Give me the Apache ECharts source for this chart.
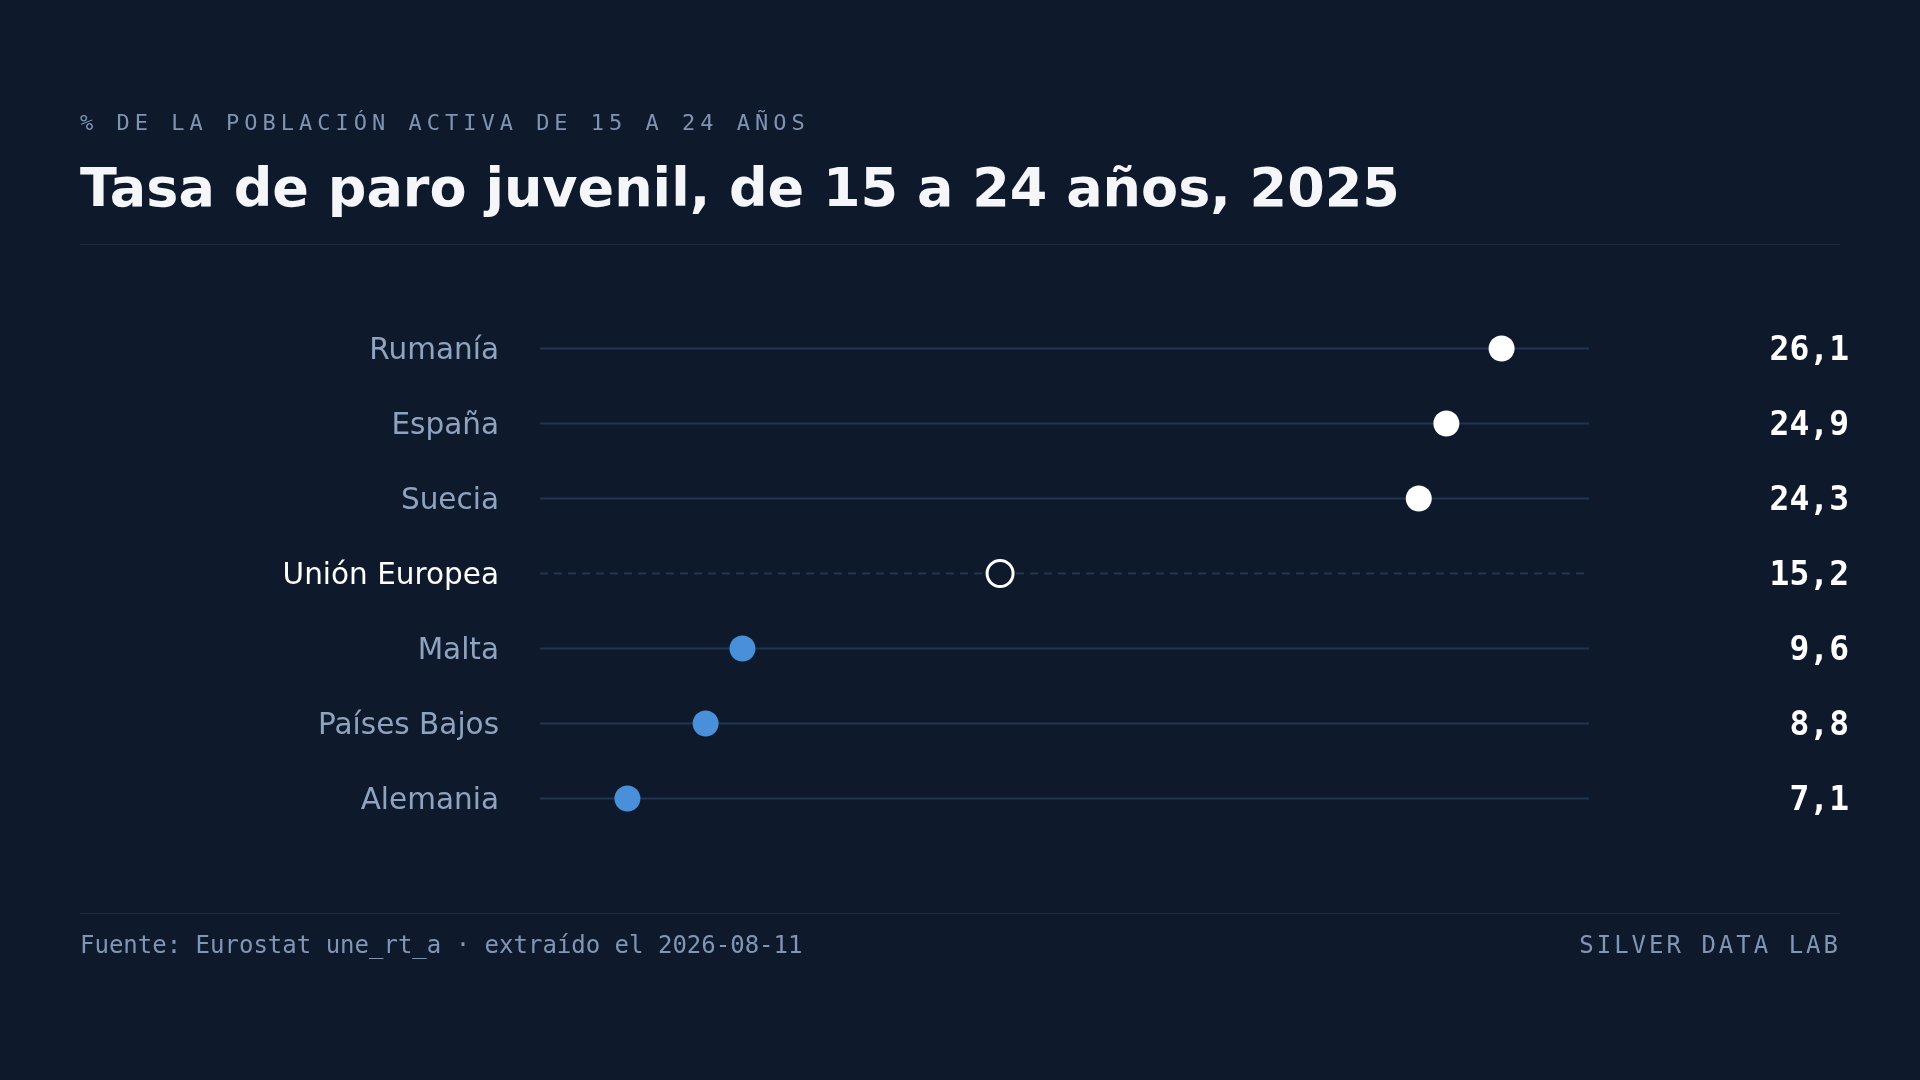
<!DOCTYPE html>
<html>
<head>
<meta charset="utf-8">
<title>Tasa de paro juvenil</title>
<script src="https://cdn.jsdelivr.net/npm/echarts@6/dist/echarts.min.js"></script>
<style>
	html, body { margin: 0; padding: 0; background: #0e1a2b; }
	#wrap { position: relative; width: 1920px; height: 1080px; background: #0e1a2b; overflow: hidden; }
	#main { position: absolute; left: 0; top: 0; width: 1920px; height: 1080px; }
	.txt { position: absolute; white-space: nowrap; line-height: 1; }
	#kicker { left: 80px; top: 110px; font: 22px "DejaVu Sans Mono", monospace; letter-spacing: 5px; color: #7f94b3; }
	#title { left: 80px; top: 156px; font: bold 54px "DejaVu Sans", sans-serif; color: #f4f6fa; }
	.rule { position: absolute; left: 80px; width: 1760px; height: 1px; background: #1b2a3f; }
	#source { left: 80px; top: 931px; font: 24px "DejaVu Sans Mono", monospace; color: #8196b4; }
	#brand { right: 79px; top: 931px; font: 24px "DejaVu Sans Mono", monospace; letter-spacing: 3px; color: #8196b4; }
</style>
</head>
<body>
<div id="wrap">
	<div id="main"></div>
	<div class="txt" id="kicker">% DE LA POBLACIÓN ACTIVA DE 15 A 24 AÑOS</div>
	<div class="txt" id="title">Tasa de paro juvenil, de 15 a 24 años, 2025</div>
	<div class="rule" style="top:244px"></div>
	<div class="rule" style="top:913px"></div>
	<div class="txt" id="source">Fuente: Eurostat une_rt_a · extraído el 2026-08-11</div>
	<div class="txt" id="brand">SILVER DATA LAB</div>
</div>
<script>
// datos (de arriba a abajo)
var paises = ['Rumanía', 'España', 'Suecia', 'Unión Europea', 'Malta', 'Países Bajos', 'Alemania'];
var tasas = [26.1, 24.9, 24.3, 15.2, 9.6, 8.8, 7.1];
var referencia = 'Unión Europea';
var ejeMin = 5.2;
var ejeMax = 28;

var etiquetas = tasas.map(function(v) {
	return v.toFixed(1).replace('.', ',');
});

window.onload = function() {
	dibujar();
};

/**
 * gráfico de puntos
 */
function dibujar() {
	var myChart = echarts.init(document.getElementById('main'));
	var valorRef = tasas[paises.indexOf(referencia)];

	var puntos = tasas.map(function(v, i) {
		var esRef = paises[i] == referencia;
		return {
			value : [ v, i ],
			itemStyle : esRef ? {
				color : '#0e1a2b',
				borderColor : '#ffffff',
				borderWidth : 3,
				opacity : 1
			} : {
				color : v > valorRef ? '#ffffff' : '#4a8fd9',
				opacity : 1
			}
		};
	});

	var option = {
		backgroundColor : 'transparent',
		animation : false,
		grid : {
			left : 540,
			right : 331,
			top : 311,
			bottom : 244
		},
		xAxis : {
			type : 'value',
			min : ejeMin,
			max : ejeMax,
			show : false
		},
		yAxis : [ {
			type : 'category',
			data : paises,
			inverse : true,
			axisLine : { show : false },
			axisTick : { show : false },
			splitLine : { show : false },
			axisLabel : {
				margin : 41,
				formatter : function(value) {
					return (value == referencia ? '{r|' : '{n|') + value + '}';
				},
				rich : {
					n : {
						fontFamily : 'DejaVu Sans',
						fontSize : 29.5,
						color : '#8ea3c0',
						padding : [ 6, 0, 0, 0 ]
					},
					r : {
						fontFamily : 'DejaVu Sans',
						fontSize : 29.5,
						color : '#ffffff',
						padding : [ 6, 0, 0, 0 ]
					}
				}
			}
		}, {
			type : 'category',
			data : etiquetas,
			inverse : true,
			position : 'right',
			axisLine : { show : false },
			axisTick : { show : false },
			splitLine : { show : false },
			axisLabel : {
				margin : 260,
				align : 'right',
				formatter : '{v|{value}}',
				rich : {
					v : {
						fontFamily : 'DejaVu Sans Mono',
						fontWeight : 'bold',
						fontSize : 33,
						color : '#ffffff',
						padding : [ 6, 0, 0, 0 ]
					}
				}
			}
		} ],
		series : [ {
			type : 'custom',
			silent : true,
			data : paises.map(function(p, i) {
				return [ ejeMin, i, ejeMax ];
			}),
			encode : { x : [ 0, 2 ], y : 1 },
			renderItem : function(params, api) {
				var idx = api.value(1);
				var a = api.coord([ api.value(0), idx ]);
				var b = api.coord([ api.value(2), idx ]);
				var esRef = paises[idx] == referencia;
				return {
					type : 'line',
					shape : { x1 : a[0], y1 : a[1], x2 : b[0], y2 : b[1] },
					style : {
						stroke : esRef ? '#22364f' : '#1f3552',
						lineWidth : 2,
						lineDash : esRef ? [ 8, 6 ] : null
					}
				};
			},
			z : 1
		}, {
			type : 'scatter',
			symbolSize : 26,
			data : puntos,
			z : 3
		} ]
	};
	myChart.setOption(option);
}
</script>
</body>
</html>
